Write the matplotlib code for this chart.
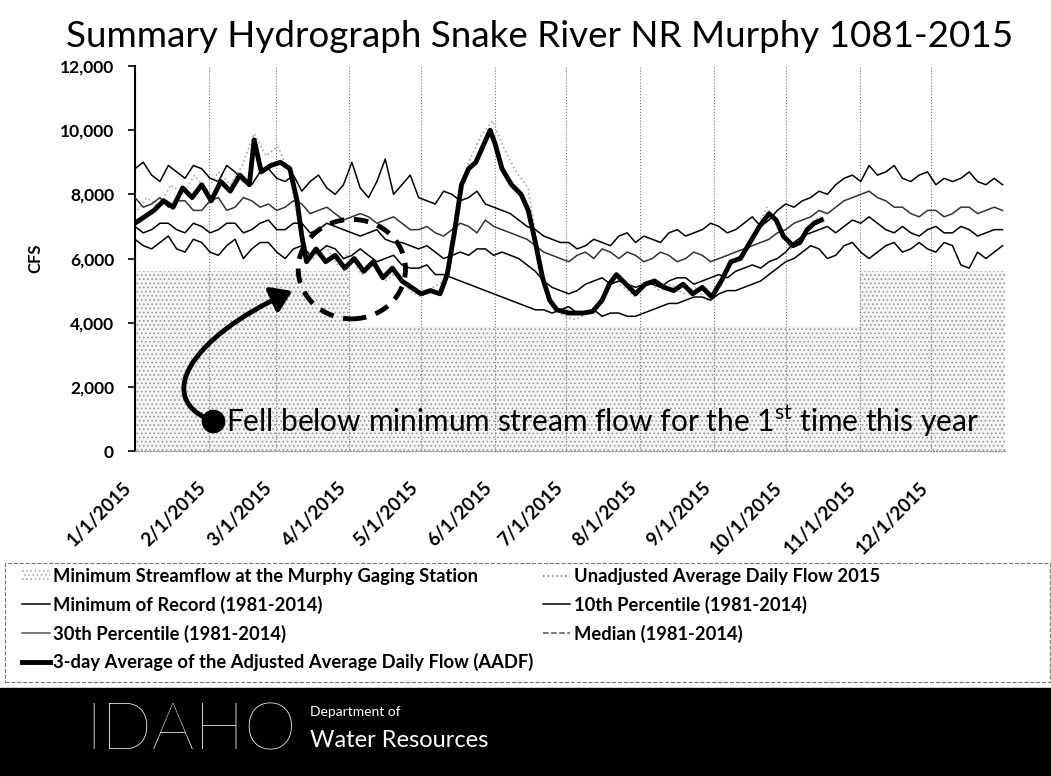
import numpy as np
import matplotlib
matplotlib.use('agg')
import matplotlib.pyplot as plt
from matplotlib.patches import Ellipse, FancyArrowPatch, Rectangle, Patch
from matplotlib.lines import Line2D
from matplotlib.path import Path

plt.rcParams['font.family'] = ['Lato', 'DejaVu Sans']
plt.rcParams['mathtext.fontset'] = 'custom'
plt.rcParams['mathtext.rm'] = 'Lato'
plt.rcParams['hatch.linewidth'] = 0.7

# x axis = day of year 2015 (0 = Jan 1)
month_days = [0, 31, 59, 90, 120, 151, 181, 212, 243, 273, 304, 334]
month_labels = ['1/1/2015', '2/1/2015', '3/1/2015', '4/1/2015', '5/1/2015', '6/1/2015',
                '7/1/2015', '8/1/2015', '9/1/2015', '10/1/2015', '11/1/2015', '12/1/2015']

# minimum streamflow at Murphy (step)
minflow_days = [0, 90, 304, 365]
minflow_vals = [5600, 3900, 5600, 5600]

# statistics 1981-2014, every 3.5 days
# (values on the week marks, then the ones half-way between)
median_wk = [8800, 8600, 8900, 8500, 8800, 8400, 8700, 8300, 8800, 8400, 8100, 8600, 8000, 9000,
             7900, 9100, 8300, 7900, 7700, 8000, 7900, 7700, 7500, 7200, 6900, 6600, 6500, 6400,
             6500, 6700, 6500, 6600, 6800, 6700, 6900, 7000, 6900, 7300, 7200, 7700, 7800, 8100,
             8300, 8600, 8900, 8700, 8500, 8600, 8300, 8400, 8700, 8300, 8300]
median_mid = [9000, 8400, 8700, 8900, 8500, 8900, 8400, 8700, 8500, 8600, 8400, 8200, 8300, 8200,
              8400, 8000, 8600, 7800, 8100, 7800, 8100, 7600, 7400, 7000, 6700, 6500, 6300, 6600,
              6400, 6800, 6700, 6500, 6900, 6800, 7100, 6800, 7100, 7000, 7500, 7600, 7900, 8000,
              8500, 8400, 8600, 8900, 8400, 8700, 8500, 8500, 8400, 8500]
pct30_wk = [7900, 7700, 7600, 7800, 7500, 7900, 7600, 7800, 7700, 7600, 7700, 7500, 7400, 7300,
            7300, 7200, 7100, 6900, 6800, 6900, 7000, 7200, 6900, 6700, 6400, 6100, 5900, 6200,
            6300, 6000, 6100, 6000, 6100, 6000, 6100, 6000, 6200, 6400, 6600, 6900, 7200, 7500,
            7600, 7900, 8100, 7800, 7600, 7300, 7500, 7400, 7600, 7500, 7500]
pct30_mid = [7600, 7900, 7800, 7500, 7800, 7500, 7900, 7600, 7500, 7800, 7400, 7600, 7200, 7400,
             7100, 7300, 6900, 7000, 6700, 7100, 6800, 7000, 6800, 6600, 6200, 6000, 6100, 6000,
             6200, 6200, 5900, 6200, 5900, 6200, 5900, 6100, 6300, 6500, 6800, 7100, 7300, 7400,
             7800, 8000, 7900, 7600, 7400, 7500, 7300, 7600, 7400, 7600]
pct10_wk = [7000, 6900, 7100, 6800, 7000, 6900, 7100, 6900, 7200, 6900, 7100, 6900, 7000, 6800,
            6800, 6600, 6500, 6300, 6200, 6100, 6100, 6300, 6200, 6000, 5600, 5100, 4900, 5200,
            5400, 5300, 5100, 5200, 5300, 5400, 5300, 5500, 5600, 5800, 5900, 6200, 6700, 6900,
            6800, 7200, 7300, 6900, 7000, 6700, 7000, 6800, 6900, 6800, 6900]
pct10_mid = [6800, 7100, 6900, 7100, 6800, 7100, 6800, 7100, 6900, 7100, 6800, 7100, 6900, 6700,
             6900, 6500, 6400, 6400, 6000, 6200, 6300, 6100, 6100, 5800, 5300, 5000, 5000, 5300,
             5200, 5200, 5200, 5100, 5400, 5200, 5400, 5400, 5700, 5700, 6000, 6500, 6800, 7000,
             7000, 7100, 7100, 6800, 6800, 6900, 6800, 7000, 6700, 6900]
min_wk = [6600, 6300, 6700, 6200, 6500, 6100, 6600, 6300, 6500, 6000, 6400, 6200, 6300, 6100,
          6100, 6000, 5800, 5700, 5500, 5400, 5200, 5000, 4800, 4600, 4400, 4300, 4500, 4300,
          4200, 4300, 4200, 4400, 4600, 4700, 4800, 4900, 5000, 5200, 5500, 5900, 6200, 6300,
          6100, 6500, 6000, 6400, 6200, 6500, 6200, 6400, 5700, 6000, 6400]
min_mid = [6400, 6500, 6300, 6600, 6200, 6400, 6000, 6500, 6200, 6300, 6100, 6400, 6000, 6300,
           5900, 6100, 5700, 5800, 5500, 5300, 5100, 4900, 4700, 4500, 4400, 4400, 4300, 4400,
           4300, 4200, 4300, 4500, 4600, 4800, 4700, 5000, 5100, 5300, 5700, 6000, 6400, 6000,
           6400, 6200, 6200, 6500, 6300, 6300, 6500, 5800, 6200, 6200]

# 2015 unadjusted daily flow
unadj_days = [0, 5, 10, 15, 20, 25, 30, 35, 40, 45, 50, 55, 60, 65, 70, 75, 80, 85, 90, 95,
              100, 105, 110, 115, 120, 125, 130, 135, 140, 145, 150, 155, 160, 165, 170, 175,
              180, 185, 190, 195, 200, 205, 210, 215, 220, 225, 230, 235, 240, 245, 250, 255,
              260, 265, 270, 275, 280, 285, 288]
unadj = [7400, 7900, 7600, 8300, 8000, 8600, 8100, 8700, 8300, 8900, 9900, 9200, 9500, 8600,
         6500, 6000, 6400, 5800, 6200, 5500, 5800, 5300, 5600, 5000, 4800, 5100, 5300, 7600,
         9000, 9800, 10300, 9400, 8700, 8200, 5800, 4500, 4200, 4100, 4300, 4600, 5400, 5100,
         4800, 5300, 5000, 5200, 4900, 5100, 4700, 5200, 5800, 6200, 6800, 7600, 7000, 6300,
         6700, 7200, 7300]

# 3-day average AADF
aadf_days = [0, 4, 8, 12, 16, 20, 24, 28, 32, 36, 40, 44, 48, 50, 53, 57, 61, 65, 68, 70, 72,
             76, 80, 84, 88, 92, 96, 100, 104, 108, 112, 116, 120, 124, 128, 131, 134, 137, 140,
             143, 146, 149, 151, 154, 158, 162, 165, 168, 171, 174, 177, 182, 188, 192, 196, 199,
             202, 206, 210, 214, 218, 222, 226, 230, 234, 238, 242, 246, 250, 254, 258, 262, 266,
             269, 272, 276, 279, 282, 285, 288]
aadf = [7100, 7300, 7500, 7800, 7600, 8200, 7900, 8300, 7800, 8400, 8100, 8600, 8300, 9700,
        8700, 8900, 9000, 8800, 7800, 6700, 5900, 6300, 5900, 6100, 5700, 6000, 5600, 5900,
        5400, 5700, 5300, 5100, 4900, 5000, 4900, 5500, 6800, 8300, 8800, 9000, 9500, 10000,
        9600, 8800, 8300, 8000, 7500, 6500, 5400, 4700, 4400, 4300, 4300, 4350, 4700, 5200,
        5500, 5200, 4900, 5200, 5300, 5100, 5000, 5200, 4900, 5100, 4800, 5300, 5900, 6000,
        6500, 7000, 7400, 7200, 6700, 6400, 6500, 6900, 7100, 7200]


def half_week(wk, mid):
    vals = np.empty(len(wk) + len(mid))
    vals[0::2] = wk
    vals[1::2] = mid
    return vals


stat_days = np.arange(0, 364.1, 3.5)
median = half_week(median_wk, median_mid)
pct30 = half_week(pct30_wk, pct30_mid)
pct10 = half_week(pct10_wk, pct10_mid)
min_record = half_week(min_wk, min_mid)

fig = plt.figure(figsize=(10.51, 7.76), dpi=100)
ax = fig.add_axes([0.1284, 0.4188, 0.8278, 0.4961])

ax.fill_between(minflow_days, 0, minflow_vals, step='post', facecolor='#f4f4f4',
                edgecolor='#9a9a9a', hatch='....', linewidth=0, zorder=1)
ax.plot(unadj_days, unadj, color='#aaaaaa', lw=1.2, ls=':', zorder=2)
ax.plot(stat_days, min_record, color='black', lw=1.1, zorder=3)
ax.plot(stat_days, pct10, color='black', lw=1.1, zorder=3)
ax.plot(stat_days, pct30, color='#333333', lw=1.1, zorder=3)
ax.plot(stat_days, median, color='black', lw=1.1, zorder=3)
ax.plot(aadf_days, aadf, color='black', lw=3.5, zorder=4)

# annotation: dashed circle, hooked arrow, dot and text
ax.add_patch(Ellipse((91, 5670), width=45, height=3100, fill=False, ls=(0, (3, 2)),
                     lw=3.5, color='black', zorder=5))
hook = Path([(32.7, 935), (8, 1600), (22, 3500), (66, 4990)],
            [Path.MOVETO, Path.CURVE4, Path.CURVE4, Path.CURVE4])
ax.add_patch(FancyArrowPatch(path=hook, arrowstyle='-|>,head_length=12,head_width=8',
                             lw=3.5, color='black', zorder=5))
ax.plot(32.7, 935, 'o', ms=16, color='black', zorder=6)
ax.text(38, 935, 'Fell below minimum stream flow for the 1$^{\\mathrm{st}}$ time this year',
        fontsize=21.5, va='center', ha='left', zorder=6)

ax.set_xlim(0, 365)
ax.set_ylim(0, 12000)
ax.set_xticks(month_days)
ax.set_xticklabels(month_labels, rotation=45, ha='right', fontsize=13.5, fontweight='bold')
ax.set_yticks(range(0, 12001, 2000))
ax.set_yticklabels(['{:,}'.format(v) for v in range(0, 12001, 2000)], fontsize=12.5,
                   fontweight='bold')
ax.tick_params(axis='x', length=0, pad=20)
ax.tick_params(axis='y', length=5, width=1.2, pad=10)
ax.grid(axis='x', ls=':', color='#777777', lw=0.8)
ax.set_ylabel('CFS', fontsize=12, fontweight='bold')
ax.yaxis.set_label_coords(-0.105, 0.5)
for s in ['top', 'right']:
    ax.spines[s].set_visible(False)
ax.spines['left'].set_linewidth(1.5)
ax.spines['bottom'].set_color('#888888')
ax.spines['bottom'].set_linestyle(':')

fig.text(0.513, 0.953, 'Summary Hydrograph Snake River NR Murphy 1081-2015', fontsize=26.5,
         ha='center', va='center')

# legend, row-major order in two columns
h_min = Patch(facecolor='white', edgecolor='#aaaaaa', hatch='....', lw=0)
h_unadj = Line2D([], [], color='#888888', lw=1.2, ls=':')
h_rec = Line2D([], [], color='black', lw=1.1)
h_10 = Line2D([], [], color='black', lw=1.1)
h_30 = Line2D([], [], color='#555555', lw=1.1)
h_med = Line2D([], [], color='#555555', lw=1.1, ls='--')
h_aadf = Line2D([], [], color='black', lw=3.5)
handles = [h_min, h_rec, h_30, h_aadf, h_unadj, h_10, h_med]
labels = ['Minimum Streamflow at the Murphy Gaging Station', 'Minimum of Record (1981-2014)',
          '30th Percentile (1981-2014)', '3-day Average of the Adjusted Average Daily Flow (AADF)',
          'Unadjusted Average Daily Flow 2015', '10th Percentile (1981-2014)',
          'Median (1981-2014)']
fig.legend(handles, labels, loc='upper left', bbox_to_anchor=(0.021, 0.268), ncol=2,
           frameon=False, prop={'size': 13.2, 'weight': 'bold'}, handlelength=1.5,
           handletextpad=0.2, labelspacing=0.58, columnspacing=0.5, borderaxespad=0,
           borderpad=0)
fig.add_artist(Rectangle((0.005, 0.1211), 0.994, 0.1534, transform=fig.transFigure,
                         fill=False, ls='--', lw=0.8, edgecolor='#777777'))

# banner
fig.add_artist(Rectangle((0, 0), 1, 88 / 776, transform=fig.transFigure, color='black'))
fig.text(85 / 1051, 0.057, 'IDAHO', color='white', fontsize=48, fontweight='light',
         ha='left', va='center')
fig.text(310 / 1051, 0.082, 'Department of', color='white', fontsize=10, ha='left', va='center')
fig.text(310 / 1051, 0.046, 'Water Resources', color='white', fontsize=17, ha='left', va='center')

plt.savefig('out.png', dpi=100)
plt.close()
